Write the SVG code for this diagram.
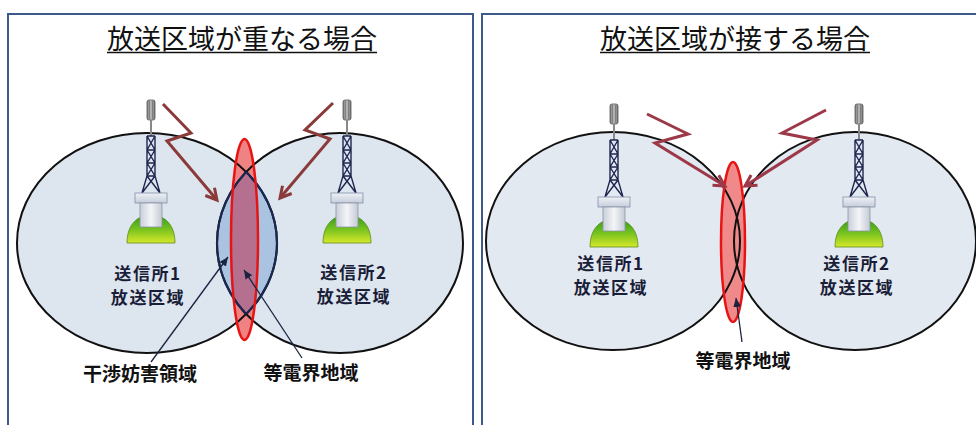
<svg xmlns="http://www.w3.org/2000/svg" xmlns:xlink="http://www.w3.org/1999/xlink" width="976" height="425" viewBox="0 0 976 425">
<style>
.title{font-family:"Noto Sans CJK JP","Noto Sans CJK SC",sans-serif;font-size:27px;fill:#111;text-anchor:middle}
.lbl{font-family:"Noto Sans CJK JP","Noto Sans CJK SC",sans-serif;font-size:17px;font-weight:bold;fill:#1a1d38;text-anchor:middle;letter-spacing:1.6px}
.cap{font-family:"Noto Sans CJK JP","Noto Sans CJK SC",sans-serif;font-size:19px;font-weight:bold;fill:#111;text-anchor:middle}
.frame{fill:#fff;stroke:#3b5a8a;stroke-width:2}
.zoneL{fill:#dde5ef;stroke:none}
.zoneR{fill:#e3e9f1;stroke:none}
.edge{fill:none;stroke:#111;stroke-width:2}
.lens{fill:none;stroke:#1a2850;stroke-width:2.2}
.redf{fill:#ef8282;stroke:none}
.reds{fill:none;stroke:#e81414;stroke-width:2.5}
.boltL{fill:none;stroke:#8b3a3a;stroke-width:3;stroke-linejoin:miter}
.boltR{fill:none;stroke:#9c3848;stroke-width:3;stroke-linejoin:miter}
.leader{fill:none;stroke:#1a2440;stroke-width:1.3}
.lat{fill:none;stroke:#1e2650;stroke-width:1.4}
</style>
<defs>
<linearGradient id="greenGrad" x1="0" y1="0" x2="0" y2="1">
<stop offset="0" stop-color="#2e9a1e"/><stop offset="0.5" stop-color="#76c21e"/><stop offset="1" stop-color="#d6e82a"/>
</linearGradient>
<linearGradient id="boxGrad" x1="0" y1="0" x2="1" y2="0">
<stop offset="0" stop-color="#c9ced8"/><stop offset="0.5" stop-color="#f4f5f8"/><stop offset="1" stop-color="#c4c9d3"/>
</linearGradient>
<linearGradient id="capGrad" x1="0" y1="0" x2="0" y2="1">
<stop offset="0" stop-color="#eef1f6"/><stop offset="1" stop-color="#c6ceda"/>
</linearGradient>
<linearGradient id="antGrad" x1="0" y1="0" x2="1" y2="0">
<stop offset="0" stop-color="#7a7a7a"/><stop offset="0.5" stop-color="#c8c8c8"/><stop offset="1" stop-color="#6e6e6e"/>
</linearGradient>
<clipPath id="clipL1"><ellipse cx="147" cy="243" rx="130" ry="110"/></clipPath>
<clipPath id="clipR1"><ellipse cx="340" cy="243" rx="123" ry="110"/></clipPath>
<clipPath id="clipRed1"><ellipse cx="244.5" cy="239.5" rx="13.5" ry="100.5"/></clipPath>
<marker id="mBoltL" markerWidth="16" markerHeight="16" refX="13" refY="8" orient="auto" markerUnits="userSpaceOnUse">
<path d="M2,2 L13,8 L2,14" fill="none" stroke="#8b3a3a" stroke-width="3"/>
</marker>
<marker id="mBoltR" markerWidth="16" markerHeight="16" refX="13" refY="8" orient="auto" markerUnits="userSpaceOnUse">
<path d="M2,2 L13,8 L2,14" fill="none" stroke="#9c3848" stroke-width="3"/>
</marker>
<marker id="mLdr" markerWidth="10" markerHeight="10" refX="9" refY="5" orient="auto" markerUnits="userSpaceOnUse">
<path d="M0,1 L9,5 L0,9 Z" fill="#1a2440"/>
</marker>
<g id="tw">
<rect x="-4" y="0" width="8" height="20" rx="2" fill="url(#antGrad)" stroke="#555" stroke-width="0.8"/>
<line x1="-1.3" y1="1" x2="-1.3" y2="19" stroke="#555" stroke-width="0.6"/>
<line x1="1.3" y1="1" x2="1.3" y2="19" stroke="#555" stroke-width="0.6"/>
<rect x="-1" y="20" width="2" height="16" fill="#888"/>
<path class="lat" d="M-4,36 L-4,76 L-9,93 M4,36 L4,76 L9,93 M-4,36 L4,36 M-4,50 L4,50 M-4,63 L4,63 M-4,76 L4,76 M-4,36 L4,50 M4,36 L-4,50 M-4,50 L4,63 M4,50 L-4,63 M-4,63 L4,76 M4,63 L-4,76 M-4,76 L9,93 M4,76 L-9,93"/>
<path d="M-24,143 C-24,124 -13,115 0,115 C13,115 24,124 24,143 Z" fill="url(#greenGrad)" stroke="#5a8a1a" stroke-width="0.8"/>
<rect x="-16" y="93" width="32" height="10" fill="url(#capGrad)" stroke="#8090a8" stroke-width="0.8"/>
<rect x="-11" y="103" width="22" height="24" fill="url(#boxGrad)" stroke="#8a96a8" stroke-width="0.8"/>
</g>
</defs>

<rect width="976" height="425" fill="#fff"/>

<g id="panel-overlap">
<rect class="frame" x="8" y="14" width="465" height="430"/>
<text class="title" x="242" y="49">放送区域が重なる場合</text>
<line x1="107" y1="52.5" x2="377" y2="52.5" stroke="#111" stroke-width="1.5"/>
</g>
<g id="panel-touch">
<rect class="frame" x="482" y="14" width="520" height="430"/>
<text class="title" x="735" y="49">放送区域が接する場合</text>
<line x1="600" y1="52.5" x2="870" y2="52.5" stroke="#111" stroke-width="1.5"/>
</g>

<g id="area-overlap">
<ellipse class="zoneL" cx="147" cy="243" rx="130" ry="110"/>
<ellipse class="zoneL" cx="340" cy="243" rx="123" ry="110"/>
<ellipse cx="340" cy="243" rx="123" ry="110" fill="#a9c3e0" clip-path="url(#clipL1)"/>
<ellipse class="redf" cx="244.5" cy="239.5" rx="13.5" ry="100.5"/>
<g clip-path="url(#clipRed1)">
<ellipse cx="340" cy="243" rx="123" ry="110" fill="#b4708e" clip-path="url(#clipL1)"/>
</g>
<ellipse class="edge" cx="147" cy="243" rx="130" ry="110"/>
<ellipse class="edge" cx="340" cy="243" rx="123" ry="110"/>
<ellipse class="lens" cx="340" cy="243" rx="123" ry="110" clip-path="url(#clipL1)"/>
<ellipse class="lens" cx="147" cy="243" rx="130" ry="110" clip-path="url(#clipR1)"/>
<ellipse class="reds" cx="244.5" cy="239.5" rx="13.5" ry="100.5"/>
</g>

<g id="area-touch">
<ellipse class="zoneR" cx="613" cy="241" rx="127" ry="109"/>
<ellipse class="zoneR" cx="855" cy="241" rx="121" ry="109"/>
<ellipse cx="733" cy="242" rx="12" ry="80" fill="#f08a8a"/>
<ellipse class="edge" cx="613" cy="241" rx="127" ry="109"/>
<ellipse class="edge" cx="855" cy="241" rx="121" ry="109"/>
<ellipse class="reds" cx="733" cy="242" rx="12" ry="80"/>
</g>

<g id="tower-1a"><use href="#tw" xlink:href="#tw" transform="translate(151,100)"/></g>
<g id="tower-2a"><use href="#tw" xlink:href="#tw" transform="translate(347,100)"/></g>
<g id="tower-1b"><use href="#tw" xlink:href="#tw" transform="translate(614,104)"/></g>
<g id="tower-2b"><use href="#tw" xlink:href="#tw" transform="translate(859,104)"/></g>

<g id="connectors">
<polyline class="boltL" points="163,104 191,133 167,141 217,200" marker-end="url(#mBoltL)"/>
<polyline class="boltL" points="333,103 305,130 330,139 280,198" marker-end="url(#mBoltL)"/>
<polyline class="boltR" points="647,114 688,134 655,143 725,186" marker-end="url(#mBoltR)"/>
<polyline class="boltR" points="826,110 782,133 817,140 745,186" marker-end="url(#mBoltR)"/>
<line class="leader" x1="151" y1="362" x2="228" y2="257" marker-end="url(#mLdr)"/>
<line class="leader" x1="302" y1="358" x2="244" y2="270" marker-end="url(#mLdr)"/>
<line class="leader" x1="742" y1="342" x2="736" y2="298" marker-end="url(#mLdr)"/>
</g>

<g id="label-1a"><text class="lbl" x="148" y="280">送信所1</text><text class="lbl" x="148" y="304">放送区域</text></g>
<g id="label-2a"><text class="lbl" x="354" y="279">送信所2</text><text class="lbl" x="354" y="303">放送区域</text></g>
<g id="label-1b"><text class="lbl" x="611" y="270">送信所1</text><text class="lbl" x="611" y="294">放送区域</text></g>
<g id="label-2b"><text class="lbl" x="857" y="270">送信所2</text><text class="lbl" x="857" y="294">放送区域</text></g>
<g id="label-interf"><text class="cap" x="140" y="381">干渉妨害領域</text></g>
<g id="label-equal-a"><text class="cap" x="311" y="380">等電界地域</text></g>
<g id="label-equal-b"><text class="cap" x="743" y="368">等電界地域</text></g>
</svg>
